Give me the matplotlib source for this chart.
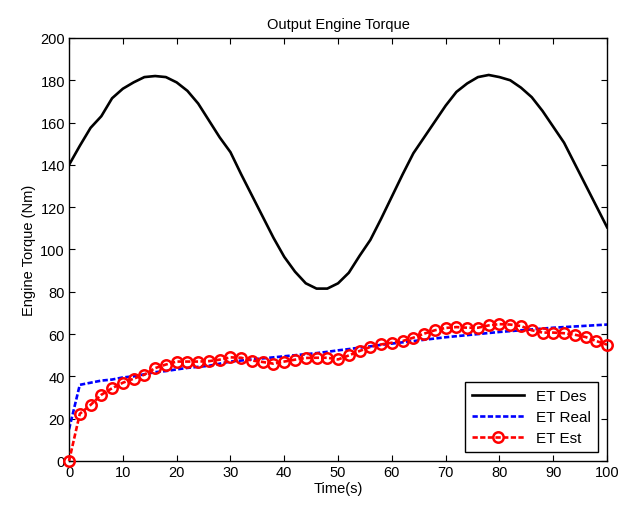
import numpy as np
import matplotlib.pyplot as plt

plt.rcParams['font.family'] = ['Liberation Sans', 'DejaVu Sans']

# ------------------------------
# 데이터
# ------------------------------
time = list(range(0, 101, 2))

et_des = [140, 149, 157.5, 163, 171.5, 176, 179, 181.5, 182, 181.5,
          179, 175, 169, 161, 153, 146, 135.5, 125.5, 115.5, 105.5,
          96.5, 89.5, 84, 81.5, 81.5, 84, 89, 97, 104.5, 114.5,
          125, 135.5, 145.5, 153, 160.5, 168, 174.5, 178.5, 181.5, 182.5,
          181.5, 180, 176.5, 172, 165.5, 158, 150.5, 140.5, 130.5, 120.5,
          110.5]

et_real = [15, 36, 37, 38, 38.5, 39.5, 40, 41, 42, 42.5,
           43.3, 44, 44.5, 45, 46, 47, 47.5, 48, 48.5, 49,
           49.5, 50, 50.5, 51, 51.6, 52.3, 52.9, 53.6, 54.2, 54.9,
           55.5, 56.1, 56.7, 57.3, 57.9, 58.5, 59, 59.5, 60, 60.5,
           61, 61.4, 61.8, 62.2, 62.6, 63, 63.3, 63.6, 63.9, 64.2,
           64.5]

et_est = [0, 22.3, 26.5, 31.3, 34.4, 37, 38.9, 40.8, 43.9, 45.6,
          47, 47, 47, 47.2, 47.9, 49, 48.8, 47.5, 46.8, 46,
          47, 47.9, 48.7, 48.8, 48.8, 48, 49.9, 52, 53.9, 55.1,
          55.9, 56.7, 58.3, 60.2, 61.8, 62.9, 63.3, 63, 63, 64.1,
          64.7, 64.5, 63.8, 61.8, 60.7, 60.7, 60.4, 59.7, 58.6, 56.7,
          55]

x_ticks = list(range(0, 101, 10))
y_ticks = list(range(0, 201, 20))

# ------------------------------
# 그리기
# ------------------------------
fig = plt.figure(figsize=(6.22, 5.06), dpi=100)
ax = fig.add_axes([0.111, 0.087, 0.865, 0.836])

ax.plot(time, et_des, 'k-', linewidth=1.9, label="ET Des")
ax.plot(time, et_real, '--', color='blue', linewidth=1.9, dashes=(2.0, 0.9), label="ET Real")
ax.plot(time, et_est, '--', color='red', linewidth=1.9, dashes=(2.0, 0.9),
        marker='o', markersize=7.5, markerfacecolor='none', markeredgewidth=1.8,
        label="ET Est", clip_on=False, zorder=3)

ax.set_xlim(0, 100)
ax.set_ylim(0, 200)
ax.set_xticks(x_ticks)
ax.set_yticks(y_ticks)
ax.tick_params(direction='in', top=True, right=True, labelsize=10.5, length=4, pad=3)
for s in ax.spines.values():
    s.set_linewidth(1)

ax.set_title("Output Engine Torque", fontsize=10.5, pad=7)
ax.set_xlabel("Time(s)", fontsize=10.5, labelpad=1)
ax.set_ylabel("Engine Torque (Nm)", fontsize=10.5, labelpad=3)

leg = ax.legend(loc='lower right', fontsize=11, fancybox=False, framealpha=1,
                edgecolor='black', borderaxespad=0.6, handlelength=3.4,
                labelspacing=0.45, borderpad=0.45)
leg.get_frame().set_linewidth(1)
leg.set_zorder(5)

fig.savefig("out.png", dpi=100)
